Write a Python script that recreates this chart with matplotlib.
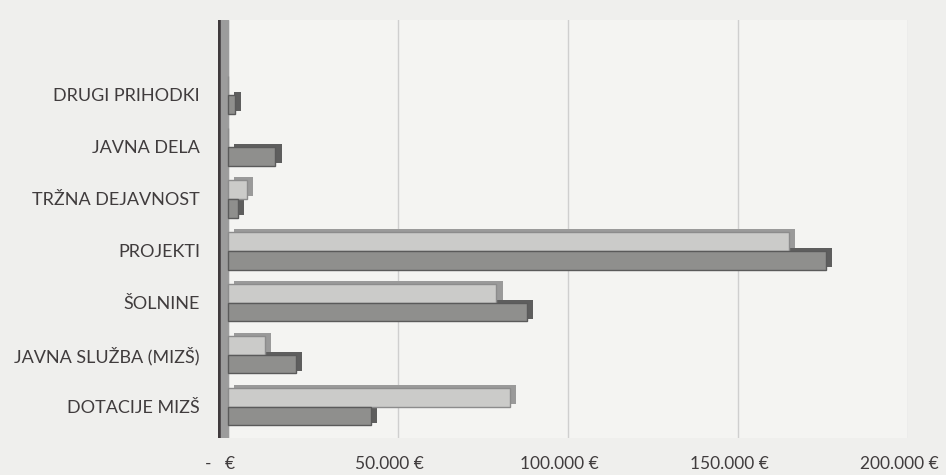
import matplotlib.pyplot as plt
import matplotlib.transforms as mtransforms
import numpy as np

plt.rcParams['font.family'] = ['Lato', 'DejaVu Sans']

categories = ['DOTACIJE MIZŠ', 'JAVNA SLUŽBA (MIZŠ)', 'ŠOLNINE', 'PROJEKTI',
              'TRŽNA DEJAVNOST', 'JAVNA DELA', 'DRUGI PRIHODKI']
# two unnamed series (light = upper bar, dark = lower bar in each group)
light = [83000, 11000, 79000, 165000, 5500, 0, 0]
dark = [42000, 20000, 88000, 176000, 3000, 14000, 2000]
ticks = [0, 50000, 100000, 150000, 200000]
tick_labels = ['-   €', '50.000 €', '100.000 €', '150.000 €', '200.000 €']

fig = plt.figure(figsize=(9.46, 4.75), dpi=100, facecolor='#efefed')
ax = fig.add_axes([0.2305, 0.078, 0.729, 0.88])
ax.set_facecolor('#f4f4f2')

y = np.arange(len(categories))
h = 0.36
depth = 1800  # pseudo 3d offset in data units

# shadow / depth faces
ax.barh(y + h / 2 + 0.05, light, height=h, left=depth, color='#9a9a9a', zorder=2)
ax.barh(y - h / 2 + 0.05, dark, height=h, left=depth, color='#5e5e5e', zorder=2)
# front faces
ax.barh(y + h / 2, light, height=h, color='#cbcbc9', edgecolor='#8c8c8c', linewidth=1, zorder=3)
ax.barh(y - h / 2, dark, height=h, color='#8f8f8d', edgecolor='#5a5a5a', linewidth=1, zorder=3)

# left wall
ax.axvspan(-2900, 0, color='#9c9c9c', zorder=1)
ax.axvline(-2900, color='#3f3a3c', linewidth=4, zorder=4)

ax.set_xlim(-2900, 200000)
ax.set_ylim(-0.6, 7.44)
ax.set_yticks(y)
ax.set_yticklabels(categories, fontsize=13, color='#403c3d')
ax.set_xticks(ticks)
ax.set_xticklabels(tick_labels, fontsize=12.5, color='#403c3d')
ax.tick_params(length=0)
ax.tick_params(axis='x', pad=13)
ax.tick_params(axis='y', pad=13)
shift = mtransforms.ScaledTranslation(-8 / 100, 0, fig.dpi_scale_trans)
for lab in ax.get_xticklabels():
    lab.set_transform(lab.get_transform() + shift)
ax.grid(axis='x', color='#cfcfcf', linewidth=1, zorder=0)
ax.set_axisbelow(True)
for s in ax.spines.values():
    s.set_visible(False)

plt.savefig('out.png', dpi=100, facecolor=fig.get_facecolor())
